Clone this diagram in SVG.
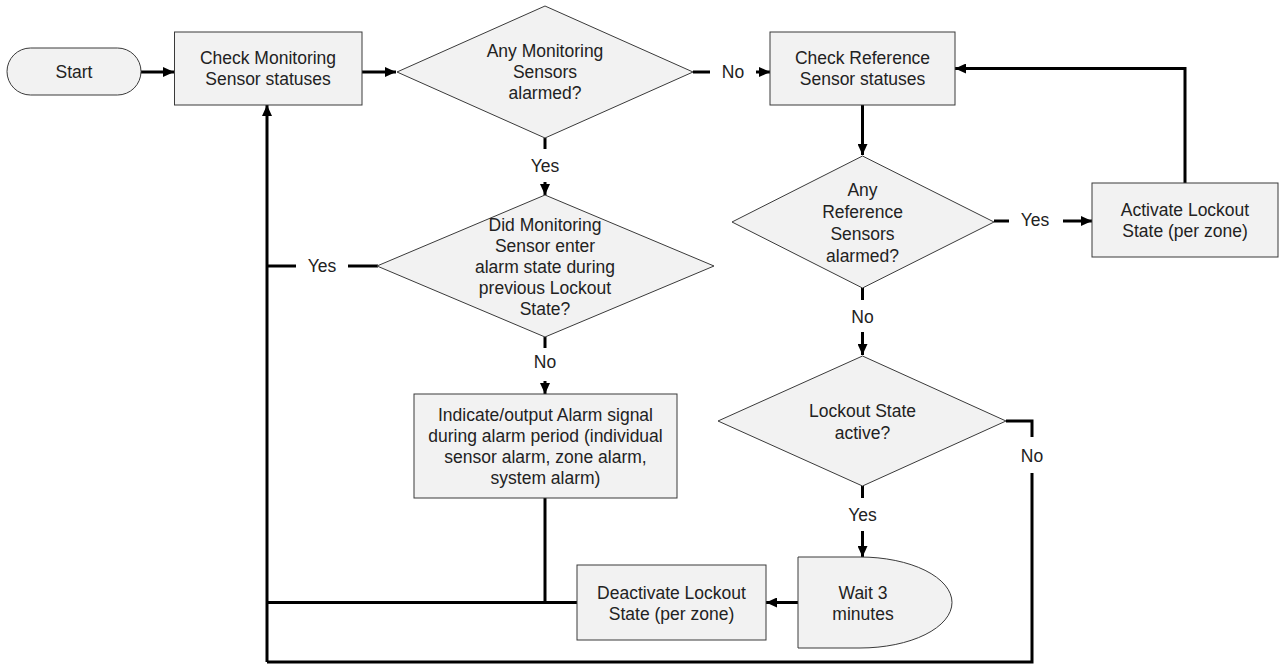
<svg xmlns="http://www.w3.org/2000/svg" width="1279" height="664" viewBox="0 0 1279 664">
<style>
.n{fill:#f2f2f2;stroke:#3a3a3a;stroke-width:1}
.t{font-family:"Liberation Sans",Arial,sans-serif;font-size:17.5px;fill:#222;text-anchor:middle}
.c{fill:none;stroke:#000;stroke-width:3}
.a{marker-end:url(#ah)}
</style>
<defs>
<marker id="ah" markerUnits="userSpaceOnUse" markerWidth="12" markerHeight="10" refX="11" refY="5" orient="auto">
<path d="M0,0 L11,5 L0,10 Z" fill="#000"/>
</marker>
</defs>
<rect width="1279" height="664" fill="#fff"/>
<g id="connectors">
<path class="c a" d="M141,72 H174"/>
<path class="c a" d="M362,72 H396"/>
<path class="c" d="M693,72 H710"/>
<path class="c a" d="M756,72 H770"/>
<path class="c a" d="M862.5,105 V155"/>
<path class="c" d="M994,221 H1009"/>
<path class="c a" d="M1063,221 H1092"/>
<path class="c a" d="M1185,183 V68.5 H955"/>
<path class="c" d="M862.5,288 V300"/>
<path class="c a" d="M862.5,332 V355"/>
<path class="c" d="M1006,421 H1032 V437"/>
<path class="c" d="M1032,473 V662 H267"/>
<path class="c a" d="M267,662 V105"/>
<path class="c" d="M862.5,486 V498"/>
<path class="c a" d="M862.5,531 V557"/>
<path class="c a" d="M798,602.5 H766"/>
<path class="c" d="M577,602.5 H267"/>
<path class="c" d="M545,498 V602.5"/>
<path class="c" d="M545,138 V149"/>
<path class="c a" d="M545,182 V195"/>
<path class="c" d="M545,337 V348"/>
<path class="c a" d="M545,381 V394"/>
<path class="c" d="M378,266 H348"/>
<path class="c" d="M296,266 H267"/>
<text class="t" x="733" y="78">No</text>
<text class="t" x="545" y="172">Yes</text>
<text class="t" x="322" y="272">Yes</text>
<text class="t" x="545" y="368">No</text>
<text class="t" x="1035" y="226">Yes</text>
<text class="t" x="862.5" y="323">No</text>
<text class="t" x="1032" y="462">No</text>
<text class="t" x="862.5" y="521">Yes</text>
</g>
<g id="start">
<rect class="n" x="7" y="48" width="134" height="47" rx="23.5"/>
<text class="t" x="74" y="78">Start</text>
</g>
<g id="check-monitoring">
<rect class="n" x="174.5" y="32" width="187.5" height="73"/>
<text class="t" x="268" y="64">Check Monitoring</text>
<text class="t" x="268" y="85">Sensor statuses</text>
</g>
<g id="any-monitoring">
<path class="n" d="M545,6 L693,72 L545,138 L397,72 Z"/>
<text class="t" x="545" y="57">Any Monitoring</text>
<text class="t" x="545" y="78">Sensors</text>
<text class="t" x="545" y="99">alarmed?</text>
</g>
<g id="check-reference">
<rect class="n" x="770" y="32" width="185" height="73"/>
<text class="t" x="862.5" y="64">Check Reference</text>
<text class="t" x="862.5" y="85">Sensor statuses</text>
</g>
<g id="any-reference">
<path class="n" d="M862.5,156 L994,222 L862.5,288 L732,222 Z"/>
<text class="t" x="862.5" y="196">Any</text>
<text class="t" x="862.5" y="218">Reference</text>
<text class="t" x="862.5" y="240">Sensors</text>
<text class="t" x="862.5" y="262">alarmed?</text>
</g>
<g id="activate-lockout">
<rect class="n" x="1092" y="183" width="186" height="74"/>
<text class="t" x="1185" y="215.5">Activate Lockout</text>
<text class="t" x="1185" y="236.5">State (per zone)</text>
</g>
<g id="did-monitoring">
<path class="n" d="M545,195 L714,266 L545,337 L377,266 Z"/>
<text class="t" x="545" y="231">Did Monitoring</text>
<text class="t" x="545" y="252">Sensor enter</text>
<text class="t" x="545" y="273">alarm state during</text>
<text class="t" x="545" y="294">previous Lockout</text>
<text class="t" x="545" y="315">State?</text>
</g>
<g id="indicate-alarm">
<rect class="n" x="414" y="394" width="263" height="104"/>
<text class="t" x="545.5" y="421">Indicate/output Alarm signal</text>
<text class="t" x="545.5" y="442">during alarm period (individual</text>
<text class="t" x="545.5" y="463">sensor alarm, zone alarm,</text>
<text class="t" x="545.5" y="484">system alarm)</text>
</g>
<g id="lockout-active">
<path class="n" d="M862.5,356 L1006,421 L862.5,486 L718,421 Z"/>
<text class="t" x="862.5" y="417">Lockout State</text>
<text class="t" x="862.5" y="439">active?</text>
</g>
<g id="wait">
<path class="n" d="M798,557 H860 A92,45.5 0 0 1 860,648 H798 Z"/>
<text class="t" x="863" y="599">Wait 3</text>
<text class="t" x="863" y="620">minutes</text>
</g>
<g id="deactivate-lockout">
<rect class="n" x="577" y="565" width="189" height="75"/>
<text class="t" x="671.5" y="599">Deactivate Lockout</text>
<text class="t" x="671.5" y="620">State (per zone)</text>
</g>
</svg>
